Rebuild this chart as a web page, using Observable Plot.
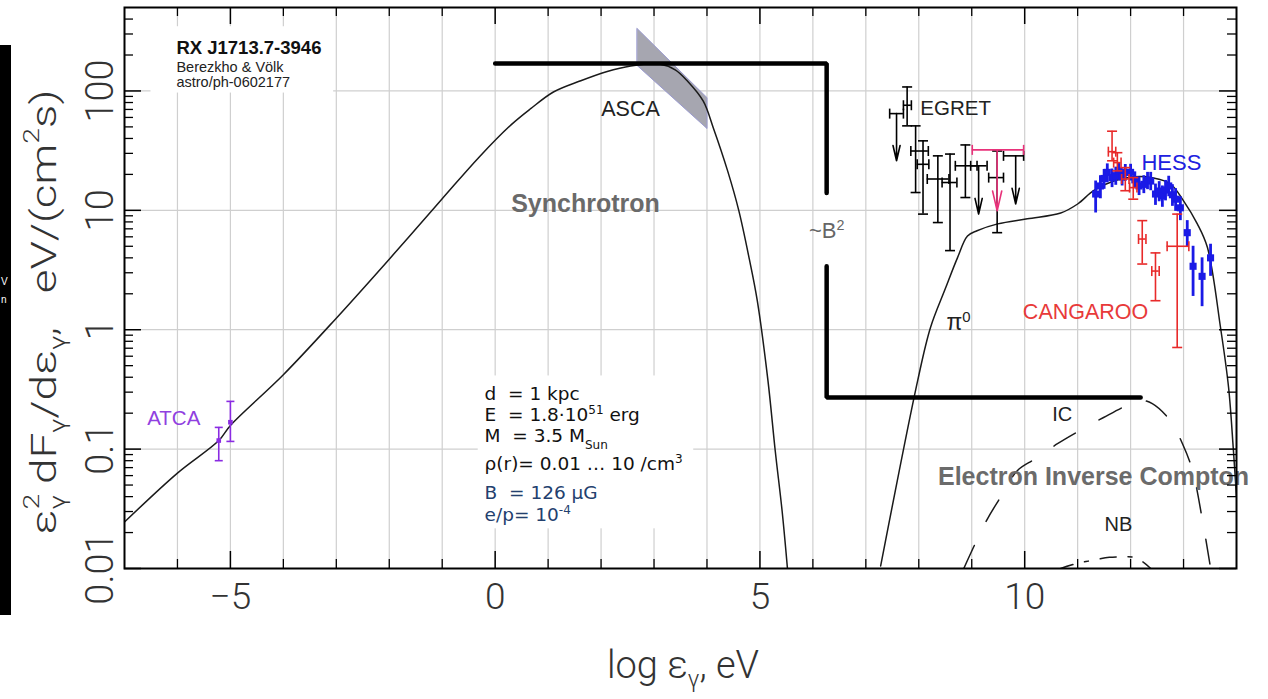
<!DOCTYPE html>
<html>
<head>
<meta charset="utf-8">
<script src="https://cdn.jsdelivr.net/npm/d3@7"></script>
<script src="https://cdn.jsdelivr.net/npm/@observablehq/plot@0.6"></script>
<style>
  html, body { margin: 0; padding: 0; background: #fff; }
  #wrap { position: relative; width: 1268px; height: 699px; overflow: hidden; }
  #strip { position: absolute; left: 0; top: 45px; width: 11px; height: 570px; background: #000; color: #fff;
           font: 10px "Liberation Sans", Arial, sans-serif; overflow: hidden; z-index: 2; }
  #strip span { position: absolute; left: 1px; }
  svg text { white-space: pre; }
  g[aria-label="x-axis tick label"], g[aria-label="y-axis tick label"] { font-family: Roboto, "Liberation Sans", sans-serif; font-weight: 300; fill: #333; }
</style>
</head>
<body>
<div id="wrap"><div id="strip"><span style="top:231px">V</span><span style="top:249px">n</span></div></div>
<script>
// ---- scales ----
const xDomain = [-7, 14];
const yDomain = [0.01, 500];
const xLabelTicks = [-5, 0, 5, 10];
const xLabelText = ["−5", "0", "5", "10"];
const yLabelTicks = [0.01, 0.1, 1, 10, 100];
const yLabelText = ["0.01", "0.1", "1", "10", "100"];
const xGrid = [-6, -5, -4, -3, -2, -1, 0, 1, 2, 3, 4, 5, 6, 7, 8, 9, 10, 11, 12, 13];
const yGrid = [0.1, 1, 10, 100];

// ---- model curves (log eps, eps^2 dF/deps) ----
const synX = [-7, -6, -5.22, -5, -4, -3, -2, -1, -0.3, 0.3, 0.67, 1.1, 1.6, 2.1, 2.56, 3.1, 3.4, 3.63, 3.93, 4.12, 4.39, 4.6, 4.8, 4.95, 5.15, 5.29, 5.42, 5.52];
const synY = [0.0245, 0.063, 0.118, 0.158, 0.42, 1.25, 3.9, 12.5, 28, 52, 71, 98, 121, 145, 162, 168, 150, 121, 82, 49, 21.4, 10, 3.9, 1.75, 0.38, 0.096, 0.03, 0.01];

const pionX = [7.28, 7.98, 8.22, 8.5, 8.73, 8.92, 9.1, 9.49, 10.05, 10.68, 11.0, 11.3, 11.68, 12.06, 12.43, 12.75, 13.0, 13.26, 13.45, 13.7, 13.85, 13.94, 14.0];
const pionY = [0.0105, 0.377, 1.04, 2.2, 4.0, 6.1, 6.75, 7.7, 8.5, 9.5, 11.3, 14.6, 17.6, 19.1, 18.7, 16.7, 12, 7.7, 4.9, 1.03, 0.33, 0.1, 0.04];

const icX = [8.85, 9.07, 9.30, 9.54, 9.86, 10.2, 10.62, 11.04, 11.49, 11.92, 12.19, 12.41, 12.75, 12.98, 13.17, 13.36, 13.51];
const icY = [0.01, 0.0163, 0.0262, 0.0393, 0.066, 0.083, 0.111, 0.143, 0.184, 0.231, 0.256, 0.24, 0.173, 0.111, 0.066, 0.025, 0.0101];

const nbX = [10.62, 10.98, 11.28, 11.6, 11.85, 12.06, 12.25, 12.4];
const nbY = [0.0098, 0.011, 0.0117, 0.0124, 0.0125, 0.0124, 0.0112, 0.0098];

// ASCA X-ray band
const ascaX = [2.69, 4.01];
const ascaLo = [162, 48];
const ascaHi = [330, 87];

// ~B^2 scaling bracket
const bracketPart = ["upper", "upper", "upper", "lower", "lower", "lower"];
const bracketX = [0, 6.26, 6.26, 6.26, 6.26, 12.19];
const bracketY = [170, 170, 14, 3.4, 0.27, 0.27];

// ---- measurements ----
const atcaX = [-5.22, -5.0];
const atcaY = [0.118, 0.168];
const atcaLo = [0.080, 0.116];
const atcaHi = [0.152, 0.251];

const egretX = [7.78, 7.94, 8.08, 8.36, 8.59, 8.88, 9.48];
const egretY = [75.9, 31.4, 24.3, 18.3, 17.1, 23.6, 18.8];
const egretLo = [51, 14.1, 9.3, 7.9, 4.6, 12.8, 6.5];
const egretHi = [108, 51, 38.2, 28.6, 29.6, 35.3, 31.4];
const egretX1 = [7.71, 7.85, 7.97, 8.16, 8.44, 8.69, 9.32];
const egretX2 = [7.86, 8.18, 8.19, 8.57, 8.72, 9.10, 9.60];

const egretUlX = [7.58, 9.13, 9.83];
const egretUlY = [64.6, 23.6, 28.6];
const egretUlTip = [26, 9.3, 11.3];
const egretUlX1 = [7.45, 8.98, 9.6];
const egretUlX2 = [7.71, 9.29, 9.98];

const pinkUlX = [9.48];
const pinkUlY = [32.1];
const pinkUlTip = [9.9];
const pinkUlX1 = [9.01];
const pinkUlX2 = [9.98];

const hessX = [11.34, 11.43, 11.5, 11.56, 11.65, 11.72, 11.78, 11.84, 11.9, 12.0, 12.08, 12.16, 12.25, 12.32, 12.38, 12.47, 12.54, 12.6, 12.66, 12.72, 12.79, 12.85, 12.94, 13.07, 13.18, 13.35, 13.51];
const hessY = [13.7, 16.0, 18.5, 20.8, 18.8, 19.5, 21.4, 19.0, 20.8, 20.8, 18.0, 16.0, 16.5, 17.8, 17.6, 13.7, 14.5, 13.2, 14.8, 16.0, 13.5, 12.4, 10.5, 6.5, 3.4, 2.8, 4.0];
const hessLo = [9.5, 12.5, 15.0, 17.0, 15.5, 16.2, 17.8, 16.0, 17.5, 17.6, 15.2, 13.3, 13.8, 14.9, 14.6, 11.0, 11.8, 10.6, 12.0, 13.0, 10.8, 9.8, 8.2, 4.9, 1.9, 1.56, 2.8];
const hessHi = [17.6, 19.5, 22.0, 24.5, 22.2, 23.0, 25.0, 22.2, 24.2, 24.3, 21.0, 19.0, 19.5, 20.8, 20.8, 16.6, 17.4, 16.0, 17.8, 19.3, 16.4, 15.2, 13.0, 8.2, 5.0, 4.0, 5.2];

const cangX = [11.65, 11.75, 11.9, 12.05, 12.22, 12.47, 12.88];
const cangY = [31, 25.1, 18.3, 15.5, 5.75, 3.1, 5.0];
const cangLo = [26, 21.4, 14.6, 12.4, 3.55, 1.75, 0.71];
const cangHi = [46, 30.4, 22.8, 18.8, 8.2, 4.4, 9.3];
const cangX1 = [11.58, 11.68, 11.83, 11.98, 12.15, 12.40, 12.69];
const cangX2 = [11.72, 11.82, 11.97, 12.12, 12.29, 12.54, 13.10];

// ---- annotation text ----
const headerText = ["RX J1713.7-3946", "Berezkho & Völk", "astro/ph-0602177"];
const paramText = ["d  = 1 kpc", "E  = 1.8·10^{51} erg", "M  = 3.5 M_{Sun}", "ρ(r)= 0.01 … 10 /cm^{3}", "B  = 126 µG", "e/p= 10^{-4}"];
const paramY = [0.2915, 0.1915, 0.1276, 0.0756, 0.0432, 0.0282];

// build row objects from parallel columns
const rows = cols => {
  const keys = Object.keys(cols);
  return cols[keys[0]].map((_, i) => Object.fromEntries(keys.map(k => [k, cols[k][i]])));
};

const syn = rows({x: synX, y: synY});
const pion = rows({x: pionX, y: pionY});
const ic = rows({x: icX, y: icY});
const nb = rows({x: nbX, y: nbY});
const asca = rows({x: ascaX, lo: ascaLo, hi: ascaHi});
const bracket = rows({part: bracketPart, x: bracketX, y: bracketY});
const atca = rows({x: atcaX, y: atcaY, lo: atcaLo, hi: atcaHi});
const egret = rows({x: egretX, y: egretY, lo: egretLo, hi: egretHi, x1: egretX1, x2: egretX2});
const egretUl = rows({x: egretUlX, y: egretUlY, tip: egretUlTip, x1: egretUlX1, x2: egretUlX2});
const pinkUl = rows({x: pinkUlX, y: pinkUlY, tip: pinkUlTip, x1: pinkUlX1, x2: pinkUlX2});
const hess = rows({x: hessX, y: hessY, lo: hessLo, hi: hessHi});
const cang = rows({x: cangX, y: cangY, lo: cangLo, hi: cangHi, x1: cangX1, x2: cangX2});

// white backdrops behind the two text blocks
const panels = [
  {x1: -6.5, x2: -3.05, y1: 96, y2: 345},
  {x1: -0.32, x2: 3.75, y1: 0.0215, y2: 0.41}
];

const W = 1268, H = 699;
const margin = {top: 7, right: 32, bottom: 131, left: 124};
const innerW = W - margin.left - margin.right;
const innerH = H - margin.top - margin.bottom;

// short cap symbols for error bars
const capH = {draw(ctx, size) { const r = Math.sqrt(size / Math.PI); ctx.moveTo(-r, 0); ctx.lineTo(r, 0); }};
const capV = {draw(ctx, size) { const r = Math.sqrt(size / Math.PI); ctx.moveTo(0, -r); ctx.lineTo(0, r); }};

function errorBars(data, {color, width = 1.6, cap = 5, xbar = true}) {
  const s = {stroke: color, strokeWidth: width, fill: "none"};
  const m = [
    Plot.ruleX(data, {x: "x", y1: "lo", y2: "hi", ...s}),
    Plot.dot(data, {x: "x", y: "lo", symbol: capH, r: cap, ...s}),
    Plot.dot(data, {x: "x", y: "hi", symbol: capH, r: cap, ...s})
  ];
  if (xbar) m.push(
    Plot.ruleY(data, {y: "y", x1: "x1", x2: "x2", ...s}),
    Plot.dot(data, {x: "x1", y: "y", symbol: capV, r: cap, ...s}),
    Plot.dot(data, {x: "x2", y: "y", symbol: capV, r: cap, ...s})
  );
  return m;
}

function upperLimits(data, {color, width = 1.6, cap = 5}) {
  const s = {stroke: color, strokeWidth: width, fill: "none"};
  return [
    Plot.ruleY(data, {y: "y", x1: "x1", x2: "x2", ...s}),
    Plot.dot(data, {x: "x1", y: "y", symbol: capV, r: cap, ...s}),
    Plot.dot(data, {x: "x2", y: "y", symbol: capV, r: cap, ...s}),
    Plot.arrow(data, {x1: "x", y1: "y", x2: "x", y2: "tip", headLength: 20, headAngle: 26, ...s})
  ];
}

const yMinor = [];
for (const d of yLabelTicks) for (const k of [2, 3, 4, 5, 6, 7, 8, 9]) if (d * k < yDomain[1]) yMinor.push(+(d * k).toPrecision(3));
const xMajor = xLabelTicks;
const xMinor = xGrid.filter(v => !xMajor.includes(v));

const helv = "Liberation Sans, Arial, sans-serif";
const label = (text, x, y, opts) => Plot.text([text], {x: () => x, y: () => y, text: d => d, fontFamily: helv, ...opts});

const chart = Plot.plot({
  width: W, height: H,
  marginTop: margin.top, marginRight: margin.right, marginBottom: margin.bottom, marginLeft: margin.left,
  style: {fontFamily: helv, background: "white", overflow: "visible"},
  x: {type: "linear", domain: xDomain},
  y: {type: "log", domain: yDomain},
  marks: [
    // grid
    Plot.ruleX(xGrid, {stroke: "#cfcfcf", strokeWidth: 1.2}),
    Plot.ruleY(yGrid, {stroke: "#cfcfcf", strokeWidth: 1.2}),
    Plot.rect(panels, {x1: "x1", x2: "x2", y1: "y1", y2: "y2", fill: "white"}),

    // ASCA band
    Plot.areaY(asca, {x: "x", y1: "lo", y2: "hi", fill: "#a6a6b0", stroke: "#9a9ad0", strokeWidth: 1}),

    // model spectra
    Plot.line(syn, {x: "x", y: "y", curve: "catmull-rom", stroke: "#1a1a1a", strokeWidth: 1.5, clip: true}),
    Plot.line(pion, {x: "x", y: "y", curve: "catmull-rom", stroke: "#1a1a1a", strokeWidth: 1.5, clip: true}),
    Plot.line(ic, {x: "x", y: "y", curve: "catmull-rom", stroke: "#1a1a1a", strokeWidth: 1.5, strokeDasharray: "25,27", clip: true}),
    Plot.line(nb, {x: "x", y: "y", curve: "catmull-rom", stroke: "#1a1a1a", strokeWidth: 1.5, strokeDasharray: "16,12,4,12", clip: true}),

    // B^2 bracket
    Plot.line(bracket, {x: "x", y: "y", z: "part", stroke: "black", strokeWidth: 4.5, strokeLinejoin: "miter"}),

    // data
    ...errorBars(atca, {color: "#8a2be2", width: 1.6, xbar: false, cap: 4}),
    Plot.dot(atca, {x: "x", y: "y", symbol: "square", r: 2.6, fill: "#8a2be2"}),
    ...errorBars(egret, {color: "black"}),
    ...upperLimits(egretUl, {color: "black"}),
    ...upperLimits(pinkUl, {color: "#e8327a"}),
    ...errorBars(hess, {color: "#1a1ae6", width: 2.8, xbar: false, cap: 0}),
    Plot.dot(hess, {x: "x", y: "y", symbol: "square", r: 4, fill: "#1a1ae6"}),
    ...errorBars(cang, {color: "#e82a2a", width: 1.6, cap: 5}),

    // labels
    label("ASCA", 2.556, 70.7, {fontSize: 21.5, fill: "#222"}),
    label("Synchrotron", 1.706, 11.3, {fontSize: 25, fontWeight: "bold", fill: "#6a6a6a"}),
    label("~B^{2}", 6.26, 6.75, {fontSize: 22, fill: "#666"}),
    label("EGRET", 8.03, 70.7, {fontSize: 20.5, fill: "#222", textAnchor: "start"}),
    label("HESS", 12.77, 25, {fontSize: 22, fill: "#2020e0"}),
    label("CANGAROO", 11.15, 1.41, {fontSize: 21.5, fill: "#e83a3a"}),
    label("π^{0}", 8.75, 1.14, {fontSize: 23, fill: "#222"}),
    label("ATCA", -6.07, 0.1816, {fontSize: 20.5, fill: "#9040e0"}),
    label("IC", 10.71, 0.193, {fontSize: 20, fill: "#222"}),
    label("NB", 11.77, 0.0234, {fontSize: 20, fill: "#222"}),
    label("Electron Inverse Compton", 11.3, 0.0589, {fontSize: 25, fontWeight: "bold", fill: "#6b6b6b"}),
    label(headerText[0], -6.02, 229, {fontSize: 18.5, fontWeight: "bold", fill: "#111", textAnchor: "start"}),
    label(headerText[1], -6.02, 158.7, {fontSize: 14.5, fill: "#222", textAnchor: "start"}),
    label(headerText[2], -6.02, 119, {fontSize: 14.5, fill: "#222", textAnchor: "start"}),
    ...paramText.map((t, i) => label(t, -0.2, paramY[i],
      {fontSize: 18.5, fontFamily: "DejaVu Sans, Verdana, sans-serif", fill: i < 4 ? "#111" : "#23406e", textAnchor: "start"})),

    // inward ticks on all four sides
    Plot.ruleY(yLabelTicks, {insetRight: innerW - 17, stroke: "black", strokeWidth: 1.5}),
    Plot.ruleY(yLabelTicks, {insetLeft: innerW - 17, stroke: "black", strokeWidth: 1.5}),
    Plot.ruleY(yMinor, {insetRight: innerW - 9, stroke: "black", strokeWidth: 1.3}),
    Plot.ruleY(yMinor, {insetLeft: innerW - 9, stroke: "black", strokeWidth: 1.3}),
    Plot.ruleX(xMajor, {insetBottom: innerH - 17, stroke: "black", strokeWidth: 1.5}),
    Plot.ruleX(xMajor, {insetTop: innerH - 17, stroke: "black", strokeWidth: 1.5}),
    Plot.ruleX(xMinor, {insetBottom: innerH - 9, stroke: "black", strokeWidth: 1.3}),
    Plot.ruleX(xMinor, {insetTop: innerH - 9, stroke: "black", strokeWidth: 1.3}),
    Plot.frame({stroke: "black", strokeWidth: 2}),

    // tick labels
    Plot.axisX({ticks: xLabelTicks, tickFormat: d => xLabelText[xLabelTicks.indexOf(d)], tickSize: 0, tickPadding: 14, fontSize: 37, label: null}),
    Plot.axisY({ticks: yLabelTicks, tickFormat: d => yLabelText[yLabelTicks.indexOf(d)], tickSize: 0, tickPadding: 12, tickRotate: -90, fontSize: 38, label: null})
  ]
});

// turn ^{..} and _{..} markup into raised / lowered tspans
function richify(svgNode) {
  const NS = "http://www.w3.org/2000/svg";
  const targets = [];
  svgNode.querySelectorAll("text").forEach(t => {
    const spans = t.querySelectorAll("tspan");
    (spans.length ? spans : [t]).forEach(n => { if (/[\^_]\{/.test(n.textContent)) targets.push(n); });
  });
  for (const n of targets) {
    const s = n.textContent; n.textContent = "";
    const re = /([\^_])\{([^}]*)\}/g; let last = 0, m;
    const add = (str, kind) => {
      const ts = document.createElementNS(NS, "tspan"); ts.textContent = str;
      if (kind) { ts.setAttribute("baseline-shift", kind === "^" ? "super" : "sub"); ts.setAttribute("font-size", "65%"); }
      n.appendChild(ts);
    };
    while ((m = re.exec(s))) { if (m.index > last) add(s.slice(last, m.index)); add(m[2], m[1]); last = re.lastIndex; }
    if (last < s.length) add(s.slice(last));
  }
}
richify(chart);

// axis titles with stacked super/subscripts
const svg = d3.select(chart);
function rich(sel, parts) {
  for (const [t, kind, dx] of parts) {
    const ts = sel.append("tspan").text(t);
    if (kind) ts.attr("baseline-shift", kind === "sup" ? "super" : "sub").attr("font-size", "62%");
    if (dx) ts.attr("dx", dx);
  }
}
const yTitle = svg.append("text")
  .attr("transform", "translate(44,312) rotate(-90) scale(1,0.78)")
  .attr("text-anchor", "middle").attr("dominant-baseline", "central")
  .attr("font-family", "Roboto, 'Liberation Sans', sans-serif").attr("font-weight", 300)
  .attr("font-size", 46).attr("fill", "#333");
rich(yTitle, [["ε"], ["2", "sup"], ["γ", "sub", "-0.55em"], [" dF"], ["γ", "sub"], ["/dε"], ["γ", "sub"], [",   eV/(cm"], ["2", "sup"], ["s)"]]);

const xTitle = svg.append("text")
  .attr("x", 683).attr("y", 665)
  .attr("text-anchor", "middle").attr("dominant-baseline", "central")
  .attr("font-family", "Roboto, 'Liberation Sans', sans-serif").attr("font-weight", 300)
  .attr("font-size", 38).attr("fill", "#333");
rich(xTitle, [["log ε"], ["γ", "sub"], [", eV"]]);

document.getElementById("wrap").appendChild(chart);
</script>
</body>
</html>
